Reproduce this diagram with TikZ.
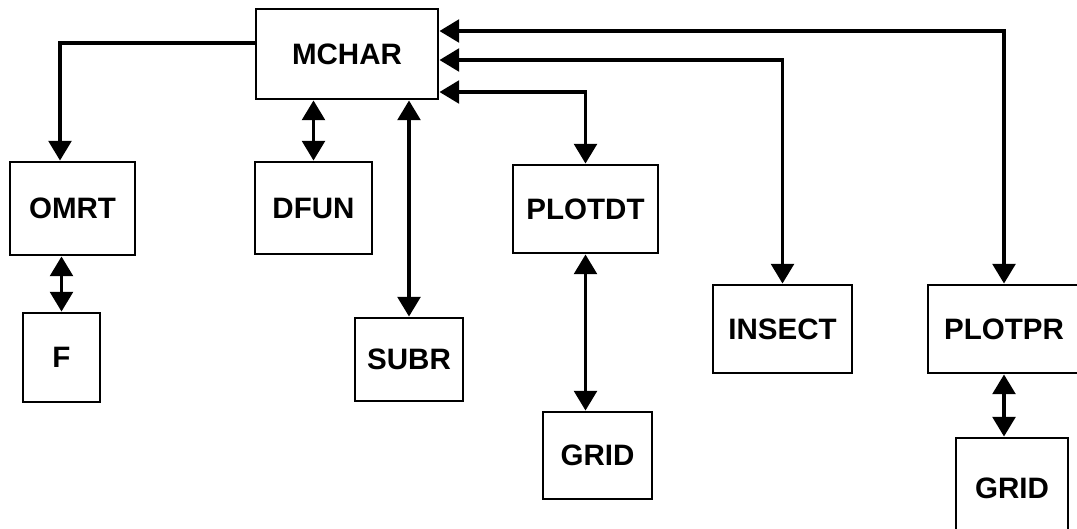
\documentclass[tikz,border=0pt]{standalone}
\usepackage{fontspec}
\setmainfont{Liberation Sans}
\usetikzlibrary{arrows.meta,positioning}
\tikzset{
  box/.style={draw,line width=2pt,inner sep=0pt,
    font=\bfseries\fontsize{21}{25}\selectfont},
  conn/.style={line width=2.8pt},
  tip/.style={-{Triangle[width=16pt,length=14pt]}},
  twotip/.style={{Triangle[width=16pt,length=14pt]}-{Triangle[width=16pt,length=14pt]}}
}

\begin{document}
\begin{tikzpicture}[x=0.025cm,y=-0.025cm]
  \path[use as bounding box,clip] (0,0) rectangle (1077,528);
  \foreach \nm/\px/\py/\w/\h/\txt in {
    mchar/347/54/4.55/2.25/MCHAR,
    omrt/72.5/208.5/3.125/2.325/OMRT,
    f/61.5/357.5/1.925/2.225/F,
    dfun/313.5/208/2.925/2.3/DFUN,
    subr/409/359.5/2.7/2.075/SUBR,
    plotdt/585.5/209/3.625/2.2/PLOTDT,
    grida/597.5/455.5/2.725/2.175/GRID,
    insect/782.5/329/3.475/2.2/INSECT,
    plotpr/1004/329/3.8/2.2/PLOTPR,
    gridb/1012/488/2.8/2.5/GRID} {
    \node[box,minimum width=\w cm,minimum height=\h cm] (\nm) at (\px,\py) {\txt};
  }
  % calls out of MCHAR
  \draw[conn,tip] (mchar.west |- 0,43) -| (60,0 |- omrt.north);
  \draw[conn,twotip] (dfun.north |- mchar.south) -- (dfun.north);
  \draw[conn,twotip] (subr.north |- mchar.south) -- (subr.north);
  \draw[conn,twotip] (mchar.east |- 0,92) -| (plotdt.north);
  \draw[conn,twotip] (mchar.east |- 0,60) -| (insect.north);
  \draw[conn,twotip] (mchar.east |- 0,31) -| (plotpr.north);
  % lower level
  \draw[conn,twotip] (f.north |- omrt.south) -- (f.north);
  \draw[conn,twotip] (plotdt.south) -- (plotdt.south |- grida.north);
  \draw[conn,twotip] (plotpr.south) -- (plotpr.south |- gridb.north);
\end{tikzpicture}
\end{document}
